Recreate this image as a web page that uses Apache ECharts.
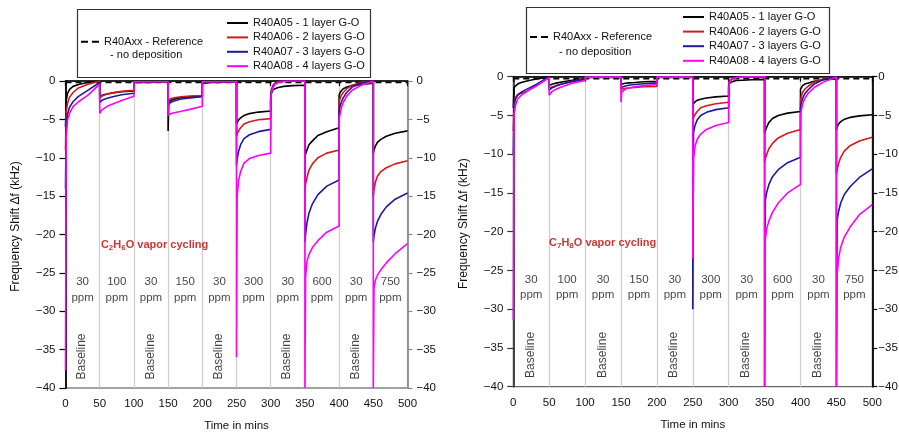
<!DOCTYPE html>
<html>
<head>
<meta charset="utf-8">
<script src="https://cdn.jsdelivr.net/npm/echarts@6/dist/echarts.min.js"></script>
<style>
  html, body { margin: 0; padding: 0; background: #fff; }
  #chart { width: 899px; height: 432px; }
</style>
</head>
<body>
<div id="chart"></div>
<script>
// exposure cycles: each 50 min segment is sampled at the same offsets
const segmentStarts = [0, 50, 100, 150, 200, 250, 300, 350, 400, 450]
const timeOffsets = [0, 1, 3, 6, 11, 19, 32, 50]
const concentrations = ['30', '100', '30', '150', '30', '300', '30', '600', '30', '750']
const baselineSegments = [0, 2, 4, 6, 8]

const seriesNames = ['R40A05 - 1 layer G-O', 'R40A06 - 2 layers G-O', 'R40A07 - 3 layers G-O', 'R40A08 - 4 layers G-O']
const seriesColors = ['#000000', '#d81818', '#1a1a9a', '#ff00ff']
const refName = 'R40Axx - Reference'
const refTimes = [0, 500]

// C2H6O (left panel), kHz
const c2_ref = [-0.2, -0.2]
const c2_A05 = [
  [-6, -2.6, -1.6, -1.1, -0.7, -0.45, -0.2, -0.05],
  [-2.0, -1.95, -1.9, -1.8, -1.7, -1.55, -1.4, -1.3],
  [-0.2, -0.2, -0.2, -0.2, -0.2, -0.2, -0.15, -0.15],
  [-6.5, -2.7, -2.55, -2.45, -2.3, -2.15, -2.05, -1.95],
  [-0.35, -0.3, -0.3, -0.25, -0.2, -0.2, -0.15, -0.1],
  [-5.6, -5.4, -5.1, -4.8, -4.5, -4.25, -4.05, -3.9],
  [-2.2, -1.6, -1.2, -1.0, -0.85, -0.7, -0.6, -0.55],
  [-9.8, -9.5, -9.0, -8.3, -7.8, -7.1, -6.6, -6.1],
  [-1.9, -1.6, -1.3, -1.0, -0.8, -0.6, -0.45, -0.3],
  [-9.5, -9.0, -8.5, -8.0, -7.6, -7.2, -6.8, -6.5]
]
const c2_A06 = [
  [-9, -4.0, -2.9, -2.1, -1.5, -0.9, -0.45, 0],
  [-2.2, -2.1, -2.0, -1.85, -1.7, -1.55, -1.35, -1.2],
  [-0.1, -0.1, -0.1, -0.1, -0.1, -0.1, -0.1, -0.1],
  [-2.5, -2.45, -2.35, -2.25, -2.15, -2.05, -1.95, -1.9],
  [-0.1, -0.1, -0.1, -0.1, -0.1, -0.1, -0.1, -0.1],
  [-7.2, -6.9, -6.5, -6.1, -5.6, -5.3, -5.05, -4.9],
  [-2.0, -1.2, -0.6, -0.3, -0.1, 0, 0, 0],
  [-14, -13.4, -12.6, -11.6, -10.8, -10.0, -9.4, -9.0],
  [-2.8, -2.4, -1.9, -1.5, -1.0, -0.55, -0.2, 0],
  [-15, -14.2, -13.2, -12.4, -11.8, -11.3, -10.8, -10.4]
]
const c2_A07 = [
  [-14, -6, -4.3, -3.4, -2.7, -2.0, -1.25, -0.2],
  [-2.8, -2.65, -2.55, -2.4, -2.25, -2.05, -1.8, -1.6],
  [-0.1, -0.1, -0.1, -0.1, -0.1, -0.1, -0.1, -0.1],
  [-3.1, -3.0, -2.85, -2.7, -2.55, -2.35, -2.2, -2.05],
  [-0.1, -0.1, -0.1, -0.1, -0.1, -0.1, -0.1, -0.1],
  [-11, -10.2, -9.2, -8.3, -7.5, -7.0, -6.6, -6.3],
  [-2.3, -1.4, -0.8, -0.4, -0.15, -0.05, 0, 0],
  [-21, -20, -18.5, -17.2, -16.0, -14.8, -13.7, -12.9],
  [-4.0, -3.5, -2.8, -2.2, -1.5, -0.8, -0.3, 0],
  [-21, -20.2, -19.2, -18.3, -17.4, -16.4, -15.4, -14.6]
]
const c2_A08 = [
  [-37.7, -7.5, -5.1, -4.2, -3.35, -2.7, -1.9, -0.4],
  [-4.2, -4.0, -3.8, -3.6, -3.3, -3.0, -2.55, -2.0],
  [-0.1, -0.1, -0.1, -0.1, -0.1, -0.1, -0.1, -0.1],
  [-4.5, -4.4, -4.3, -4.2, -4.1, -3.95, -3.7, -3.3],
  [-0.1, -0.1, -0.1, -0.1, -0.1, -0.1, -0.1, -0.1],
  [-36, -15, -13, -11.8, -10.7, -10.1, -9.7, -9.4],
  [-2.6, -1.6, -0.9, -0.45, -0.2, -0.05, 0, 0],
  [-40, -25.5, -23.5, -22.6, -21.7, -20.8, -19.7, -18.9],
  [-5.0, -4.5, -3.6, -2.8, -2.0, -1.2, -0.55, -0.05],
  [-40, -27, -26, -25.3, -24.6, -23.7, -22.5, -21.2]
]

// C7H8O (right panel), kHz
const c7_ref = [-0.25, -0.25]
const c7_A05 = [
  [-4, -1.4, -1.15, -0.95, -0.75, -0.55, -0.3, -0.05],
  [-1.1, -1.05, -1.0, -0.9, -0.8, -0.65, -0.45, -0.25],
  [-0.1, -0.1, -0.1, -0.1, -0.1, -0.1, -0.1, -0.1],
  [-1.0, -0.95, -0.9, -0.85, -0.8, -0.75, -0.65, -0.6],
  [-0.1, -0.1, -0.1, -0.1, -0.1, -0.1, -0.1, -0.1],
  [-3.6, -3.4, -3.25, -3.05, -2.9, -2.75, -2.6, -2.5],
  [-1.2, -0.85, -0.7, -0.6, -0.5, -0.45, -0.4, -0.35],
  [-7.3, -7.0, -6.5, -5.9, -5.4, -5.0, -4.7, -4.5],
  [-1.6, -1.4, -1.15, -0.95, -0.8, -0.6, -0.4, -0.25],
  [-6.9, -6.5, -6.1, -5.8, -5.5, -5.25, -5.05, -4.9]
]
const c7_A06 = [
  [-7, -3.5, -2.7, -2.3, -2.15, -1.9, -1.1, -0.1],
  [-1.5, -1.45, -1.35, -1.25, -1.1, -0.9, -0.6, -0.3],
  [-0.05, -0.05, -0.05, -0.05, -0.05, -0.05, -0.05, -0.05],
  [-1.7, -1.6, -1.55, -1.5, -1.45, -1.4, -1.3, -1.25],
  [-0.05, -0.05, -0.05, -0.05, -0.05, -0.05, -0.05, -0.05],
  [-5.6, -5.3, -4.9, -4.5, -4.0, -3.75, -3.5, -3.3],
  [-1.0, -0.5, -0.3, -0.2, -0.1, -0.05, 0, 0],
  [-11, -10.6, -10.0, -9.3, -8.6, -7.9, -7.3, -6.8],
  [-3.0, -2.6, -2.0, -1.6, -1.2, -0.7, -0.25, 0],
  [-12.6, -12.0, -11.2, -10.4, -9.6, -8.9, -8.3, -7.8]
]
const c7_A07 = [
  [-10, -3.8, -2.9, -2.4, -2.0, -1.6, -1.0, 0],
  [-1.75, -1.65, -1.5, -1.35, -1.15, -0.9, -0.6, -0.35],
  [-0.05, -0.05, -0.05, -0.05, -0.05, -0.05, -0.05, -0.05],
  [-1.4, -1.35, -1.3, -1.2, -1.1, -1.0, -0.9, -0.8],
  [-0.05, -0.05, -0.05, -0.05, -0.05, -0.05, -0.05, -0.05],
  [-30, -7.2, -6.3, -5.6, -5.0, -4.6, -4.25, -4.0],
  [-1.3, -0.7, -0.4, -0.2, -0.1, -0.05, 0, 0],
  [-40, -16, -14.9, -13.9, -12.9, -12.0, -11.1, -10.4],
  [-4.0, -3.5, -2.8, -2.2, -1.65, -0.95, -0.35, 0],
  [-40, -18.5, -17.4, -16.3, -15.2, -14.2, -13.0, -11.9]
]
const c7_A08 = [
  [-31.4, -5.0, -3.7, -2.9, -2.4, -1.9, -1.2, -0.1],
  [-2.4, -2.2, -2.0, -1.8, -1.55, -1.25, -0.85, -0.5],
  [-0.05, -0.05, -0.05, -0.05, -0.05, -0.05, -0.05, -0.05],
  [-3.3, -2.0, -1.8, -1.6, -1.45, -1.3, -1.15, -1.0],
  [-0.05, -0.05, -0.05, -0.05, -0.05, -0.05, -0.05, -0.05],
  [-23.5, -10.5, -9.0, -8.1, -7.4, -6.8, -6.3, -5.9],
  [-1.5, -0.8, -0.45, -0.25, -0.1, -0.05, 0, 0],
  [-40, -21, -19.6, -18.6, -17.5, -16.3, -15.0, -13.9],
  [-5.0, -4.4, -3.5, -2.8, -2.1, -1.4, -0.7, -0.05],
  [-40, -25.5, -23.5, -22.0, -20.7, -19.4, -17.8, -16.5]
]

const FONT = '"Liberation Sans", Arial, sans-serif'
const minus = v => (v === 0 ? '0' : '\u2212' + Math.abs(v))

function toPoints(segments) {
  const pts = []
  segments.forEach((vals, k) => {
    vals.forEach((v, i) => pts.push([segmentStarts[k] + timeOffsets[i], v]))
  })
  return pts
}

const panels = [
  { sub: ['2', '6'], ref: c2_ref, data: [c2_A05, c2_A06, c2_A07, c2_A08],
    grid: { left: 65.5, top: 81, width: 342, height: 307 }, vaporAt: 51,
    leftAxisColor: '#000', rightAxisColor: '#8a8a8a', rightLabelMargin: 9 },
  { sub: ['7', '8'], ref: c7_ref, data: [c7_A05, c7_A06, c7_A07, c7_A08],
    grid: { left: 513.3, top: 76.7, width: 359, height: 310 }, vaporAt: 49,
    leftAxisColor: '#333', rightAxisColor: '#000', rightLabelMargin: 6 }
]

const grids = [], xAxes = [], yAxes = [], series = []
const txt = { fontFamily: FONT, fontSize: 11.5, color: '#111' }

panels.forEach((p, g) => {
  grids.push(Object.assign({ show: true, borderColor: '#444', borderWidth: 1, backgroundColor: 'transparent',
    containLabel: false, outerBoundsMode: 'none' }, p.grid))
  xAxes.push({
    gridIndex: g, type: 'value', min: 0, max: 500, interval: 50,
    name: 'Time in mins', nameLocation: 'middle', nameGap: 32,
    nameTextStyle: txt,
    axisLine: { lineStyle: { color: '#000', width: 1.5 } },
    axisTick: { show: true, inside: false, length: 5, lineStyle: { color: '#000', width: 1.2 } },
    axisLabel: Object.assign({ margin: 10 }, txt),
    splitLine: { show: true, lineStyle: { color: '#cdcdcd', width: 1.2 } }
  })
  const yBase = {
    gridIndex: g, type: 'value', min: -40, max: 0, interval: 5,
    splitLine: { show: false }
  }
  yAxes.push(Object.assign({}, yBase, {
    position: 'left',
    name: 'Frequency Shift \u0394f (kHz)', nameLocation: 'middle', nameGap: 44,
    nameTextStyle: { fontFamily: FONT, fontSize: 12, color: '#111', padding: [0, 0, 0, 16] },
    axisLine: { show: true, lineStyle: { color: p.leftAxisColor, width: 1.8 } },
    axisTick: { show: true, inside: false, length: 6, lineStyle: { color: p.leftAxisColor, width: 1.2 } },
    axisLabel: Object.assign({ margin: 10, formatter: minus }, txt)
  }))
  yAxes.push(Object.assign({}, yBase, {
    position: 'right',
    axisLine: { show: true, lineStyle: { color: p.rightAxisColor, width: 1.8 } },
    axisTick: { show: true, inside: false, length: 5, lineStyle: { color: p.rightAxisColor, width: 1.2 } },
    axisLabel: Object.assign({ margin: p.rightLabelMargin, formatter: minus }, txt)
  }))

  const yi = g * 2
  series.push({
    name: refName, type: 'line', xAxisIndex: g, yAxisIndex: yi, symbol: 'none',
    data: refTimes.map((t, i) => [t, p.ref[i]]),
    lineStyle: { color: '#000', width: 1.6, type: [6, 4] }, itemStyle: { color: '#000' }, z: 2
  })
  p.data.forEach((segs, s) => {
    series.push({
      name: seriesNames[s], type: 'line', xAxisIndex: g, yAxisIndex: yi, symbol: 'none',
      data: toPoints(segs), lineStyle: { color: seriesColors[s], width: 1.6 },
      itemStyle: { color: seriesColors[s] }, z: 3 + s
    })
  })
  // concentration labels
  series.push({
    type: 'scatter', xAxisIndex: g, yAxisIndex: yi, symbolSize: 1, silent: true,
    itemStyle: { color: 'transparent' }, z: 10,
    data: concentrations.map((c, k) => [segmentStarts[k] + 25, -27.2, c]),
    label: Object.assign({ show: true, position: 'inside', formatter: d => d.value[2] + '\nppm',
      lineHeight: 15.5, align: 'center' }, txt)
  })
  // baseline labels
  series.push({
    type: 'scatter', xAxisIndex: g, yAxisIndex: yi, symbolSize: 1, silent: true,
    itemStyle: { color: 'transparent' }, z: 10,
    data: baselineSegments.map(k => [segmentStarts[k] + 24, -35.9]),
    label: { show: true, position: 'inside', rotate: 90, formatter: 'Baseline',
      fontFamily: FONT, fontSize: 12, color: '#111' }
  })
  // vapor label
  series.push({
    type: 'scatter', xAxisIndex: g, yAxisIndex: yi, symbolSize: 1, silent: true,
    itemStyle: { color: 'transparent' }, z: 10,
    data: [[p.vaporAt, -21.4]],
    label: {
      show: true, position: 'right', distance: 0,
      formatter: '{a|C}{s|' + p.sub[0] + '}{a|H}{s|' + p.sub[1] + '}{a|O vapor cycling}',
      rich: {
        a: { fontFamily: FONT, fontSize: 11, fontWeight: 'bold', color: '#c00000', lineHeight: 14 },
        s: { fontFamily: FONT, fontSize: 8, fontWeight: 'bold', color: '#c00000', lineHeight: 8, verticalAlign: 'bottom' }
      }
    }
  })
})

const legendText = { fontFamily: FONT, fontSize: 11, color: '#111', lineHeight: 14 }
const dashIcon = 'path://M0,0H7V2H0Z M11,0H18V2H11Z'

const option = {
  animation: false,
  backgroundColor: '#fff',
  grid: grids, xAxis: xAxes, yAxis: yAxes, series: series,
  legend: [
    { data: seriesNames, icon: 'rect', orient: 'vertical', left: 227, top: 16, itemWidth: 21, itemHeight: 2, itemGap: 0.4,
      padding: 0, selectedMode: false, textStyle: legendText },
    { data: seriesNames, icon: 'rect', orient: 'vertical', left: 683, top: 10, itemWidth: 21, itemHeight: 2, itemGap: 0.6,
      padding: 0, selectedMode: false, textStyle: legendText },
    { data: [{ name: refName, icon: dashIcon }], left: 81, top: 21.5, itemWidth: 18, itemHeight: 2, padding: 0, selectedMode: false,
      formatter: n => '\n' + n + '\n  - no deposition', textStyle: Object.assign({}, legendText, { lineHeight: 13.5 }) },
    { data: [{ name: refName, icon: dashIcon }], left: 530, top: 14.5, itemWidth: 18, itemHeight: 2, padding: 0, selectedMode: false,
      formatter: n => '\n' + n + '\n  - no deposition', textStyle: Object.assign({}, legendText, { lineHeight: 15 }) }
  ],
  graphic: [
    { type: 'rect', left: 75, top: 7, shape: { width: 293, height: 68 }, style: { fill: 'none', stroke: '#333', lineWidth: 1.2 }, z: -1 },
    { type: 'rect', left: 524, top: 5, shape: { width: 303, height: 66 }, style: { fill: 'none', stroke: '#333', lineWidth: 1.2 }, z: -1 }
  ]
}

const chart = echarts.init(document.getElementById('chart'), null, { renderer: 'canvas' })
chart.setOption(option)
</script>
</body>
</html>
